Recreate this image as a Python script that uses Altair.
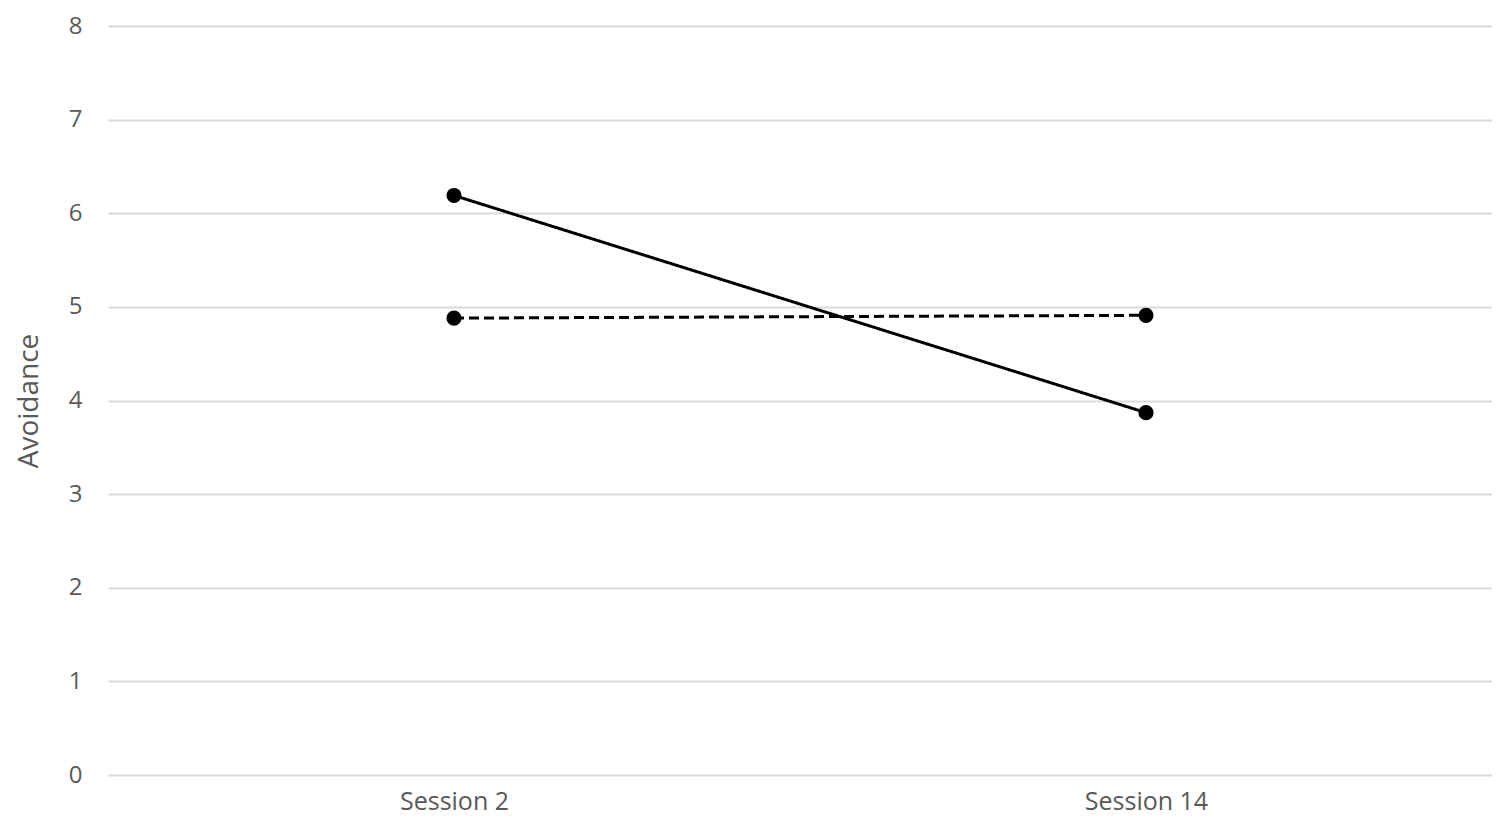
import altair as alt
import pandas as pd

sessions = ["Session 2", "Session 14"]
group_solid = [6.19, 3.87]
group_dashed = [4.88, 4.91]
groups = ["Group A", "Group B"]

rows = []
for s, v in zip(sessions, group_solid):
    rows.append({"session": s, "value": v, "group": groups[0]})
for s, v in zip(sessions, group_dashed):
    rows.append({"session": s, "value": v, "group": groups[1]})
df = pd.DataFrame(rows)

FONT = "Open Sans"
GRAY = "#595959"

x = alt.X("session:N", sort=sessions, scale=alt.Scale(type="point", padding=0.5),
          axis=alt.Axis(title=None, labelAngle=0, labelFontSize=25, labelColor=GRAY,
                        labelFont=FONT, ticks=False, domain=False, grid=False, labelPadding=14))
y = alt.Y("value:Q", scale=alt.Scale(domain=[0, 8], nice=False),
          axis=alt.Axis(title="Avoidance", titleFontSize=28, titleColor=GRAY, titleFont=FONT,
                        titleFontWeight="normal", titlePadding=25,
                        values=list(range(0, 9)), labelFontSize=24, labelColor=GRAY, labelFont=FONT,
                        ticks=False, domain=False, gridColor="#d9d9d9", gridWidth=2, labelPadding=26))

dash = alt.StrokeDash("group:N", scale=alt.Scale(domain=groups, range=[[1, 0], [10, 5]]), legend=None)

lines = alt.Chart(df).mark_line(color="black", strokeWidth=3).encode(x=x, y=y, strokeDash=dash, detail="group:N")
points = alt.Chart(df).mark_circle(color="black", size=230, opacity=1).encode(x=x, y=y, detail="group:N")

chart = (lines + points).properties(
    width=1384, height=749,
    autosize=alt.AutoSizeParams(type="none"),
    padding={"left": 100, "top": 18, "right": 0, "bottom": 44},
).configure_view(stroke=None)

chart.save("out.html", embed_options={"renderer": "svg", "actions": False})
